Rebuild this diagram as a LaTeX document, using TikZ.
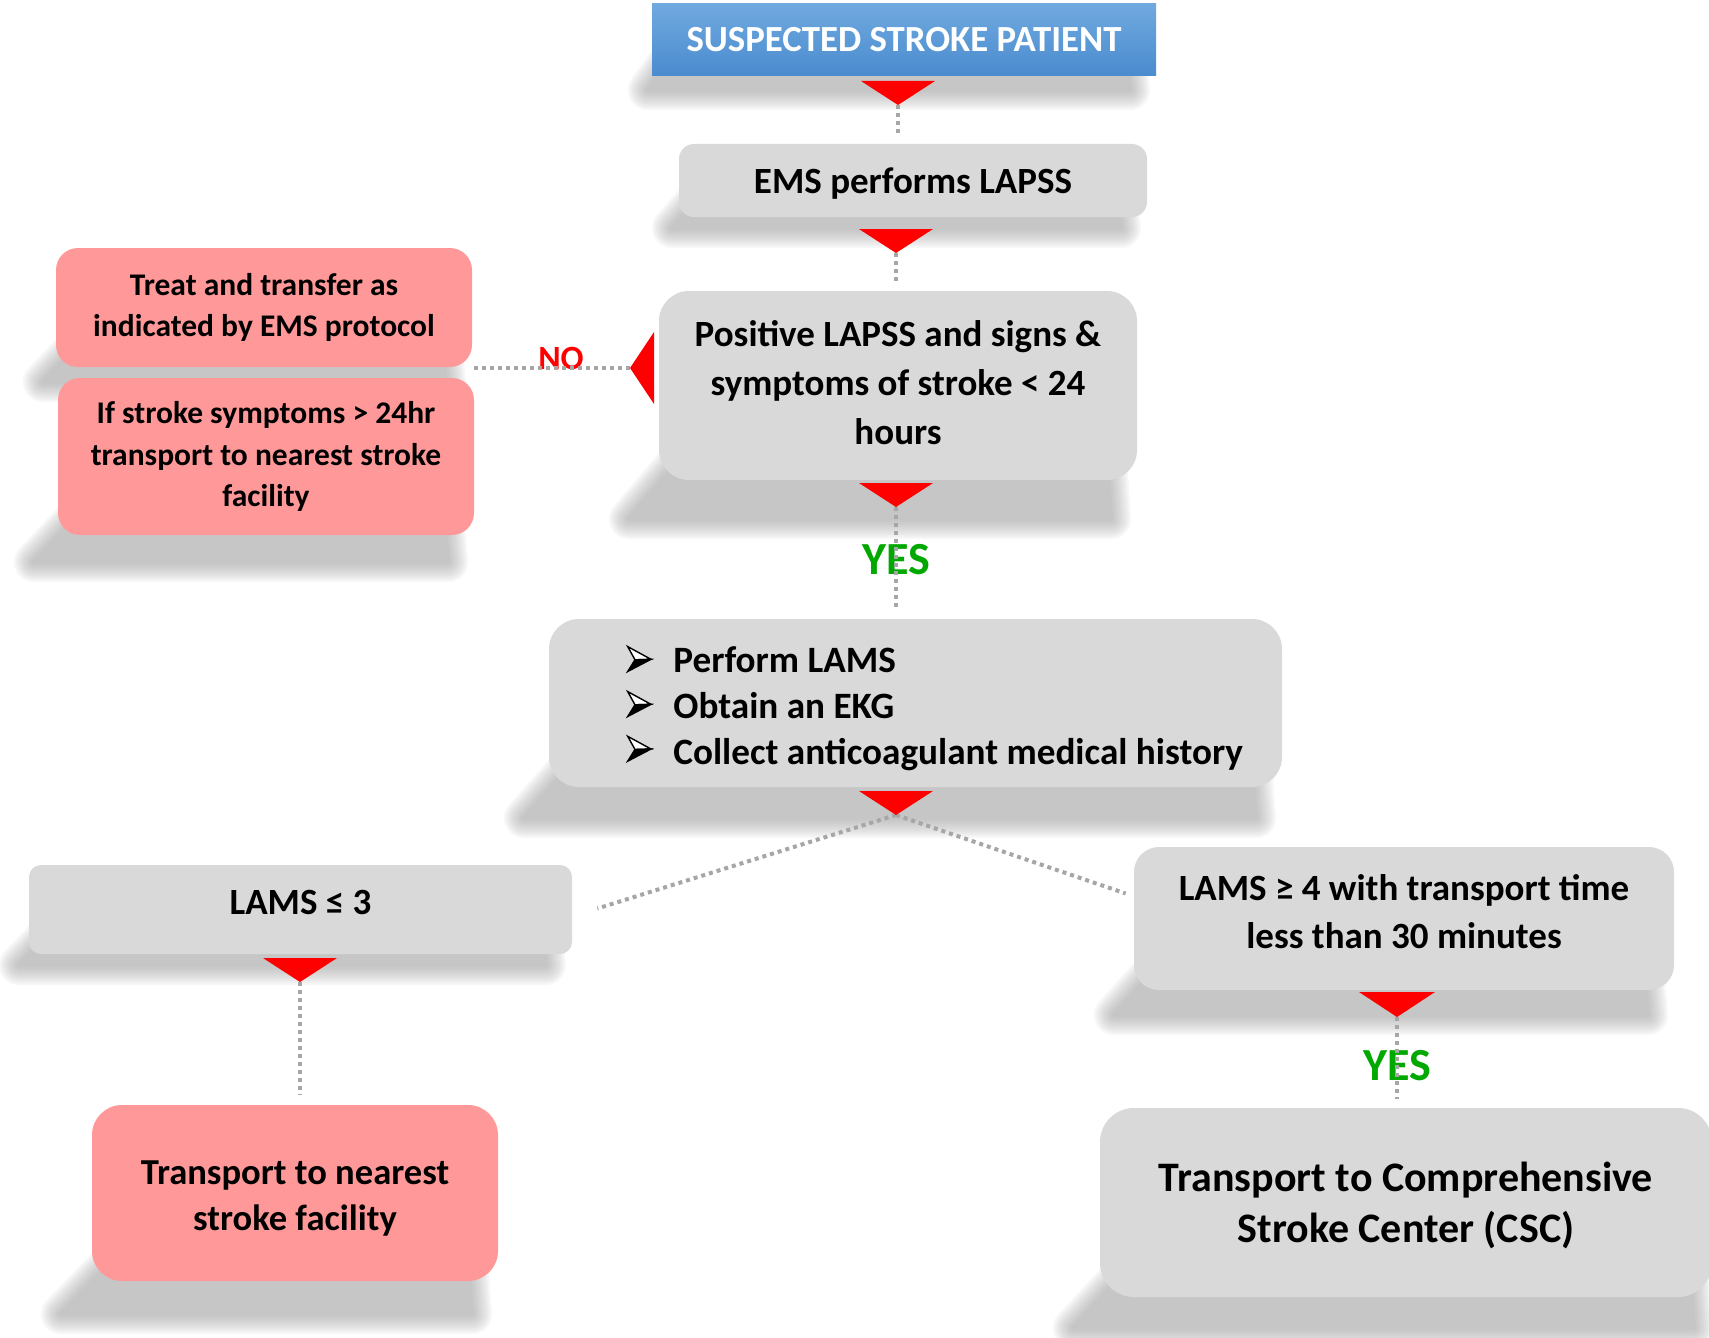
\documentclass[tikz,border=0pt]{standalone}
\usepackage{fontspec}
\setmainfont{Carlito}
\usetikzlibrary{calc}
\definecolor{boxgray}{HTML}{D9D9D9}
\definecolor{pinkbox}{HTML}{FF9999}
\definecolor{dotgray}{HTML}{A6A6A6}
\definecolor{yesgreen}{HTML}{00A800}
\definecolor{bluetop}{HTML}{70A9DF}
\definecolor{bluebot}{HTML}{4A8BCF}
\newcommand\boxshadow[5]{%
  \foreach \w in {20,18,16,14,12,10,8,6,4,2}{%
    \begin{scope}[transparency group, opacity=0.07]
    \filldraw[fill=black!40,draw=black!40,line width=\w pt,line join=round]
      (#1+20,#3-20) -- (#2-30,#3-20) -- (#2-26,#3+#4-10) -- (#1-#5+10,#3+#4-10) -- cycle;
    \end{scope}}}
\newcommand\tshift[2]{\raisebox{#1}[\height][\depth]{\begin{tabular}{@{}c@{}}#2\end{tabular}}}
\newcommand\bularrow[1]{%
  \filldraw[fill=white, draw=black, line width=0.7pt, line join=miter] (#1) -- ++(-23.3,-12.7) -- ++(7.3,13.2) -- cycle;
  \filldraw[fill=black, draw=black, line width=0.7pt, line join=miter] (#1) -- ++(-16,0.5) -- ++(-7.3,11.7) -- cycle;}
\tikzset{
  gbox/.style={fill=boxgray, align=center, inner sep=0pt, text=black,
    font=\bfseries\fontsize{18.5}{24.5}\selectfont},
  pbox/.style={gbox, fill=pinkbox, font=\bfseries\fontsize{15.75}{20.75}\selectfont},
  dotline/.style={draw=dotgray, line width=2pt, dash pattern=on 2pt off 2pt},
  redtri/.style={fill=red},
  yeslabel/.style={text=yesgreen, font=\bfseries\fontsize{23}{28}\selectfont, inner sep=0pt},
  nolabel/.style={text=red, font=\bfseries\fontsize{17}{20}\selectfont, inner sep=0pt}
}
\begin{document}
\begin{tikzpicture}[x=0.5pt,y=-0.5pt]
\useasboundingbox (0,0) rectangle (1709,1338);
\fill[white] (0,0) rectangle (1709,1338);

% shadows
\boxshadow{652}{1156}{76}{24}{14}
\boxshadow{679}{1147}{217}{21}{17}
\boxshadow{659}{1137}{480}{49}{40}
\boxshadow{56}{472}{367}{25}{23}
\boxshadow{58}{474}{535}{37}{34}
\boxshadow{549}{1282}{787}{41}{35}
\boxshadow{29}{572}{954}{21}{20}
\boxshadow{92}{498}{1281}{43}{41}
\boxshadow{1134}{1674}{990}{35}{30}
\boxshadow{1100}{1720}{1297}{41}{37}

% boxes
\node[inner sep=0pt, top color=bluetop, bottom color=bluebot, text=white,
  minimum width=252pt, minimum height=36pt,
  font=\bfseries\fontsize{18.4}{22}\selectfont] (title) at (904,40) {SUSPECTED STROKE PATIENT};
\node[gbox, rounded corners=7.5pt, minimum width=234pt, minimum height=36.5pt] (ems) at (913,180.5)
  {\tshift{-1.6pt}{EMS performs LAPSS}};
\node[gbox, rounded corners=15pt, minimum width=239pt, minimum height=94.5pt] (pos) at (898,385.5)
  {\tshift{0pt}{Positive LAPSS and signs \&\\symptoms of stroke < 24\\hours}};
\node[pbox, rounded corners=11pt, minimum width=208pt, minimum height=59.5pt] (red1) at (264,307.5)
  {Treat and transfer as\\indicated by EMS protocol};
\node[pbox, rounded corners=11pt, minimum width=208pt, minimum height=78.5pt] (red2) at (266,456.5)
  {If stroke symptoms > 24hr\\transport to nearest stroke\\facility};
\node[gbox, rounded corners=15pt, minimum width=366.5pt, minimum height=84pt] (bul) at (915.5,703) {};
\node[anchor=west, align=left, inner sep=0pt, font=\bfseries\fontsize{18.6}{23}\selectfont] (bultext) at (673,709)
  {Perform LAMS\\Obtain an EKG\\Collect anticoagulant medical history};
\bularrow{651,659.3}
\bularrow{651,704.3}
\bularrow{651,749}
\node[gbox, rounded corners=6pt, minimum width=271.5pt, minimum height=44.5pt] (lams3) at (300.5,909.5)
  {\tshift{2.2pt}{LAMS ≤ 3}};
\node[pbox, rounded corners=15pt, minimum width=203pt, minimum height=88pt,
  font=\bfseries\fontsize{18.3}{23}\selectfont] (near) at (295,1193)
  {\tshift{-2.7pt}{Transport to nearest\\stroke facility}};
\node[gbox, rounded corners=12.5pt, minimum width=270pt, minimum height=71.5pt,
  font=\bfseries\fontsize{18.5}{24}\selectfont] (lams4) at (1404,918.5)
  {\tshift{1.7pt}{LAMS ≥ 4 with transport time\\less than 30 minutes}};
\node[gbox, rounded corners=17pt, minimum width=306pt, minimum height=94.5pt,
  font=\bfseries\fontsize{21}{25.5}\selectfont] (csc) at (1406,1202.5)
  {\tshift{-1.9pt}{Transport to Comprehensive\\Stroke Center (CSC)}};

% apex points
\coordinate (a1) at (898,105);
\coordinate (a2) at (896,253);
\coordinate (a3) at (896,507);
\coordinate (a4) at (896,815);
\coordinate (a5) at (300,982);
\coordinate (a6) at (1397,1017);
\coordinate (aL) at (630,368);
\coordinate (l3end) at ($(lams3.east)+(25,-1)$);
\coordinate (l4end) at ($(lams4.west)+(-8,-25)$);

% labels
\node[yeslabel] (yes1) at (896,560) {YES};
\node[yeslabel] (yes2) at (1397,1066) {YES};
\node[nolabel] (no) at (561,358) {NO};

% connectors
\draw[dotline, shorten >=3.5pt] (a1) -- (a1 |- ems.north);
\draw[dotline, shorten >=3pt] (a2) -- (a2 |- pos.north);
\draw[dotline, shorten >=4.5pt] (a3) -- (a3 |- bul.north);
\draw[dotline] (a4) -- (l3end);
\draw[dotline] (a4) -- (l4end);
\draw[dotline, shorten >=5pt] (a5) -- (a5 |- near.north);
\draw[dotline, shorten >=4.5pt] (a6) -- (a6 |- csc.north);
\draw[dotline] (aL) -- (aL -| red1.east);

% red triangles
\fill[redtri] (a1) -- ++(-37,-24) -- ++(74,0) -- cycle;
\fill[redtri] (a2) -- ++(-37,-24) -- ++(74,0) -- cycle;
\fill[redtri] (a3) -- ++(-37,-24) -- ++(74,0) -- cycle;
\fill[redtri] (a4) -- ++(-37,-24) -- ++(74,0) -- cycle;
\fill[redtri] (a5) -- ++(-37,-24) -- ++(74,0) -- cycle;
\fill[redtri] (a6) -- ++(-38,-25) -- ++(76,0) -- cycle;
\fill[redtri] (aL) -- ++(24,-36) -- ++(0,72) -- cycle;
\end{tikzpicture}
\end{document}
